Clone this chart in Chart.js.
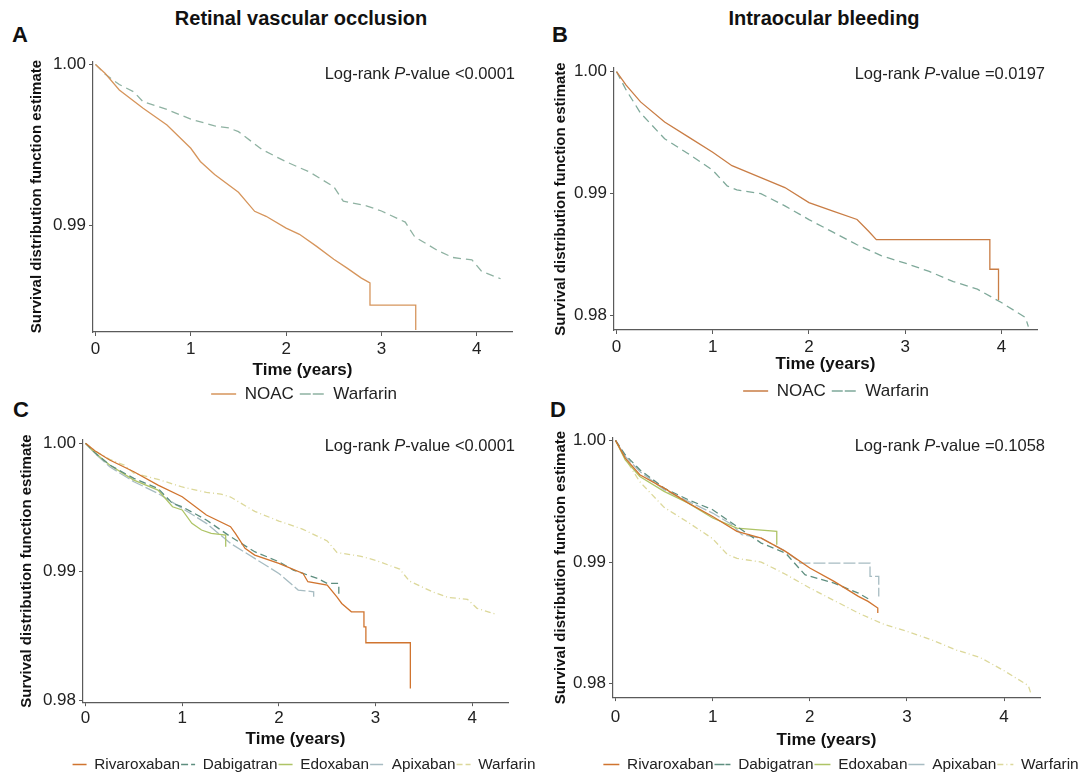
<!DOCTYPE html>
<html>
<head>
<meta charset="utf-8">
<script src="https://cdn.jsdelivr.net/npm/chart.js"></script>
<style>
  body { margin: 0; width: 1085px; height: 775px; background: #fff; position: relative; overflow: hidden;
         font-family: "Liberation Sans", Arial, sans-serif; color: #222; }
  .box { position: absolute; }
  .title { position: absolute; font-weight: bold; font-size: 20px; line-height: 24px; transform: translateX(-50%); white-space: nowrap; color: #111; }
  .letter { position: absolute; font-weight: bold; font-size: 22px; line-height: 22px; color: #111; }
  .pval { position: absolute; font-size: 16.5px; line-height: 20px; white-space: nowrap; }
</style>
</head>
<body>

<div class="title" style="left:301px; top:6px;">Retinal vascular occlusion</div>
<div class="title" style="left:824px; top:6px;">Intraocular bleeding</div>
<div class="letter" style="left:12px; top:24px;">A</div>
<div class="letter" style="left:552px; top:24px;">B</div>
<div class="letter" style="left:13px; top:399px;">C</div>
<div class="letter" style="left:550px; top:399px;">D</div>

<div class="box" style="left:0px; top:48px; width:540px; height:366px;"><canvas id="chartA"></canvas></div>
<div class="box" style="left:540px; top:48px; width:545px; height:360px;"><canvas id="chartB"></canvas></div>
<div class="box" style="left:0px; top:410px; width:540px; height:366px;"><canvas id="chartC"></canvas></div>
<div class="box" style="left:540px; top:410px; width:545px; height:367px;"><canvas id="chartD"></canvas></div>

<div class="pval" style="right:570px; top:63px;">Log-rank <i>P</i>-value &lt;0.0001</div>
<div class="pval" style="right:40px; top:63px;">Log-rank <i>P</i>-value =0.0197</div>
<div class="pval" style="right:570px; top:435px;">Log-rank <i>P</i>-value &lt;0.0001</div>
<div class="pval" style="right:40px; top:435px;">Log-rank <i>P</i>-value =0.1058</div>

<script>
// tick labels
const xTicks = [0, 1, 2, 3, 4];
const yTicksA = [0.99, 1.00];
const yTicksBCD = [0.98, 0.99, 1.00];

// Retinal vascular occlusion (A, C)
const rvoNoacT = [0, 0.1, 0.25, 0.5, 0.75, 1.0, 1.1, 1.25, 1.5, 1.67, 1.79, 2.0, 2.14, 2.32, 2.5, 2.64, 2.79, 2.88, 2.88, 3.36, 3.36];
const rvoNoacS = [1.0, 0.99945, 0.99841, 0.99727, 0.99624, 0.99479, 0.99397, 0.99316, 0.99205, 0.99087, 0.99056, 0.98983, 0.98944, 0.98869, 0.98789, 0.98734, 0.98672, 0.98642, 0.98504, 0.98504, 0.98350];

const rvoWarfT = [0, 0.1, 0.25, 0.4, 0.5, 0.75, 1.0, 1.25, 1.4, 1.5, 1.75, 2.0, 2.25, 2.5, 2.6, 2.85, 3.0, 3.25, 3.35, 3.6, 3.75, 3.95, 4.05, 4.25];
const rvoWarfS = [1.0, 0.99940, 0.99875, 0.99830, 0.99768, 0.99720, 0.99660, 0.99618, 0.99605, 0.99582, 0.99470, 0.99395, 0.99330, 0.99240, 0.99150, 0.99120, 0.99089, 0.99020, 0.98928, 0.98840, 0.98800, 0.98785, 0.98715, 0.98668];

const rvoRivaT = [0, 0.1, 0.25, 0.5, 0.75, 1.0, 1.25, 1.5, 1.55, 1.65, 1.75, 2.0, 2.25, 2.3, 2.5, 2.6, 2.65, 2.75, 2.88, 2.88, 2.9, 2.9, 3.36, 3.36];
const rvoRivaS = [1.0, 0.99940, 0.99870, 0.99779, 0.99675, 0.99584, 0.99442, 0.99351, 0.99299, 0.99182, 0.99130, 0.99065, 0.98987, 0.98922, 0.98896, 0.98805, 0.98753, 0.98688, 0.98688, 0.98571, 0.98571, 0.98447, 0.98447, 0.98091];

const rvoDabiT = [0, 0.1, 0.25, 0.5, 0.75, 0.9, 1.0, 1.25, 1.5, 1.75, 2.0, 2.15, 2.25, 2.4, 2.5, 2.62, 2.62];
const rvoDabiS = [1.0, 0.99925, 0.99831, 0.99727, 0.99649, 0.99532, 0.99506, 0.99403, 0.99273, 0.99156, 0.99078, 0.99013, 0.98987, 0.98948, 0.98909, 0.98909, 0.98805];

const rvoEdoxT = [0, 0.1, 0.25, 0.5, 0.75, 0.9, 1.0, 1.1, 1.2, 1.3, 1.45, 1.45];
const rvoEdoxS = [1.0, 0.99925, 0.99831, 0.99714, 0.99636, 0.99506, 0.99481, 0.99377, 0.99325, 0.99299, 0.99286, 0.99195];

const rvoApixT = [0, 0.1, 0.25, 0.5, 0.75, 1.0, 1.25, 1.5, 1.75, 2.0, 2.2, 2.36, 2.36];
const rvoApixS = [1.0, 0.99920, 0.99818, 0.99701, 0.99610, 0.99494, 0.99377, 0.99221, 0.99104, 0.98987, 0.98857, 0.98844, 0.98805];

// Intraocular bleeding (B, D)
const iobNoacT = [0, 0.1, 0.25, 0.5, 0.75, 1.0, 1.2, 1.5, 1.75, 2.0, 2.25, 2.5, 2.62, 2.7, 3.88, 3.88, 3.97, 3.97];
const iobNoacS = [1.0, 0.99890, 0.99752, 0.99587, 0.99463, 0.99339, 0.99229, 0.99132, 0.99050, 0.98926, 0.98857, 0.98788, 0.98691, 0.98623, 0.98623, 0.98380, 0.98380, 0.98127];

const iobWarfT = [0, 0.1, 0.25, 0.5, 0.75, 1.0, 1.15, 1.25, 1.5, 1.75, 2.0, 2.25, 2.5, 2.75, 3.0, 3.25, 3.5, 3.75, 4.0, 4.25, 4.28];
const iobWarfS = [1.0, 0.99850, 0.99660, 0.99450, 0.99325, 0.99192, 0.99063, 0.99030, 0.99000, 0.98900, 0.98787, 0.98684, 0.98581, 0.98492, 0.98430, 0.98362, 0.98279, 0.98217, 0.98107, 0.97984, 0.97910];

const iobRivaT = [0, 0.1, 0.25, 0.5, 0.75, 1.0, 1.25, 1.5, 1.75, 2.0, 2.25, 2.5, 2.6, 2.7, 2.7];
const iobRivaS = [1.0, 0.99855, 0.99718, 0.99608, 0.99485, 0.99375, 0.99252, 0.99197, 0.99088, 0.98951, 0.98841, 0.98718, 0.98677, 0.98622, 0.98581];

const iobDabiT = [0, 0.1, 0.25, 0.5, 0.75, 1.0, 1.25, 1.5, 1.75, 1.95, 2.25, 2.5, 2.62];
const iobDabiS = [1.0, 0.99882, 0.99759, 0.99608, 0.99512, 0.99430, 0.99293, 0.99156, 0.99074, 0.98896, 0.98827, 0.98745, 0.98690];

const iobEdoxT = [0, 0.1, 0.25, 0.5, 0.75, 1.0, 1.25, 1.66, 1.66];
const iobEdoxS = [1.0, 0.99840, 0.99704, 0.99581, 0.99485, 0.99362, 0.99279, 0.99252, 0.99142];

const iobApixT = [0, 0.1, 0.25, 0.5, 0.75, 1.0, 1.2, 1.3, 1.5, 1.75, 1.87, 1.9, 2.62, 2.62, 2.71, 2.71];
const iobApixS = [1.0, 0.99868, 0.99745, 0.99595, 0.99499, 0.99403, 0.99307, 0.99225, 0.99197, 0.99088, 0.99019, 0.98992, 0.98992, 0.98882, 0.98882, 0.98718];

const axisColor = '#5a5a5a';

function pts(t, s) {
  return t.map((x, i) => ({ x: x, y: s[i] }));
}

function line(label, t, s, color, dash) {
  return {
    label: label, data: pts(t, s),
    borderColor: color, backgroundColor: 'rgba(0,0,0,0)',
    borderWidth: 1.3, borderDash: dash || [],
    showLine: true, pointRadius: 0, tension: 0, fill: false
  };
}

// moves the legend to a fixed spot under the plot
const placeLegend = {
  id: 'placeLegend',
  afterLayout(chart, args, opts) {
    const lg = chart.legend;
    if (!lg) return;
    const w = lg.width, h = lg.height;
    lg.left = opts.cx - w / 2; lg.right = lg.left + w;
    lg.top = opts.cy - h / 2; lg.bottom = lg.top + h;
  }
};

function makePanel(id, p) {
  new Chart(document.getElementById(id), {
    type: 'scatter',
    data: { datasets: p.datasets },
    plugins: [placeLegend],
    options: {
      responsive: true, maintainAspectRatio: false, animation: false,
      layout: { padding: p.pad },
      plugins: {
        tooltip: { enabled: false },
        placeLegend: { cx: p.legendX, cy: p.legendY },
        legend: {
          position: 'bottom',
          labels: {
            boxWidth: p.boxW, boxHeight: 0, padding: p.legendPad,
            color: '#222', font: { family: 'Liberation Sans', size: p.legendFont }
          }
        }
      },
      scales: {
        x: {
          type: 'linear', min: -0.026, max: 4.37,
          border: { display: true, color: axisColor, width: 1.2 },
          grid: { display: true, drawOnChartArea: false, drawTicks: true, tickLength: 4, color: axisColor },
          ticks: { color: '#222', padding: p.xTickPad, maxRotation: 0, autoSkip: false,
                   font: { family: 'Liberation Sans', size: 17 }, callback: v => String(v) },
          afterBuildTicks: s => { s.ticks = xTicks.map(v => ({ value: v })); },
          afterFit: s => { s.height = p.xH; },
          title: { display: true, text: 'Time (years)', color: '#111', padding: { top: 0, bottom: 0 },
                   font: { family: 'Liberation Sans', size: 17, weight: 'bold' } }
        },
        y: {
          type: 'linear', min: p.yMin, max: p.yMax,
          border: { display: true, color: axisColor, width: 1.2 },
          grid: { display: true, drawOnChartArea: false, drawTicks: true, tickLength: 4, color: axisColor },
          ticks: { color: '#222', padding: 3, font: { family: 'Liberation Sans', size: 17 },
                   callback: v => v.toFixed(2) },
          afterBuildTicks: s => { s.ticks = p.yTicks.map(v => ({ value: v })); },
          afterFit: s => { s.width = p.yW; },
          title: { display: true, text: 'Survival distribution function estimate', color: '#111',
                   padding: { top: 0, bottom: 0 }, font: { family: 'Liberation Sans', size: 15, weight: 'bold' } }
        }
      }
    }
  });
}

const cRiva = '#d0742f', cDabi = '#5e8e7f', cEdox = '#aec466', cApix = '#a7bcc2', cWarf = '#dcd89a';

makePanel('chartA', {
  datasets: [
    line('NOAC', rvoNoacT, rvoNoacS, '#d6955c'),
    line('Warfarin', rvoWarfT, rvoWarfS, '#8fb2a2', [8, 5])
  ],
  pad: { left: 28, right: 28, top: 11, bottom: 0 }, yW: 65, xH: 49, xTickPad: 3,
  yMin: 0.98337, yMax: 1.0002, yTicks: yTicksA,
  boxW: 25, legendPad: 6, legendFont: 17, legendX: 304, legendY: 348
});

makePanel('chartB', {
  datasets: [
    line('NOAC', iobNoacT, iobNoacS, '#c97d45'),
    line('Warfarin', iobWarfT, iobWarfS, '#7fa99a', [8, 5])
  ],
  pad: { left: 12, right: 48, top: 20, bottom: 0 }, yW: 62, xH: 45, xTickPad: 3,
  yMin: 0.97882, yMax: 1.0003, yTicks: yTicksBCD,
  boxW: 25, legendPad: 6, legendFont: 17, legendX: 296, legendY: 345
});

makePanel('chartC', {
  datasets: [
    line('Rivaroxaban', rvoRivaT, rvoRivaS, cRiva),
    line('Dabigatran', rvoDabiT, rvoDabiS, cDabi, [7, 4]),
    line('Edoxaban', rvoEdoxT, rvoEdoxS, cEdox),
    line('Apixaban', rvoApixT, rvoApixS, cApix, [12, 3]),
    line('Warfarin', rvoWarfT, rvoWarfS, cWarf, [6, 3, 1, 3])
  ],
  pad: { left: 18, right: 32, top: 30, bottom: 0.5 }, yW: 65, xH: 47, xTickPad: 2,
  yMin: 0.97984, yMax: 1.00026, yTicks: yTicksBCD,
  boxW: 14, legendPad: 1, legendFont: 15.3, legendX: 304, legendY: 359
});

makePanel('chartD', {
  datasets: [
    line('Rivaroxaban', iobRivaT, iobRivaS, cRiva),
    line('Dabigatran', iobDabiT, iobDabiS, cDabi, [7, 4]),
    line('Edoxaban', iobEdoxT, iobEdoxS, cEdox),
    line('Apixaban', iobApixT, iobApixS, cApix, [12, 3]),
    line('Warfarin', iobWarfT, iobWarfS, cWarf, [6, 3, 1, 3])
  ],
  pad: { left: 12, right: 45, top: 28, bottom: 0.5 }, yW: 61, xH: 53, xTickPad: 6,
  yMin: 0.9789, yMax: 1.0002, yTicks: yTicksBCD,
  boxW: 16, legendPad: 1, legendFont: 15.4, legendX: 301, legendY: 359
});
</script>
</body>
</html>
